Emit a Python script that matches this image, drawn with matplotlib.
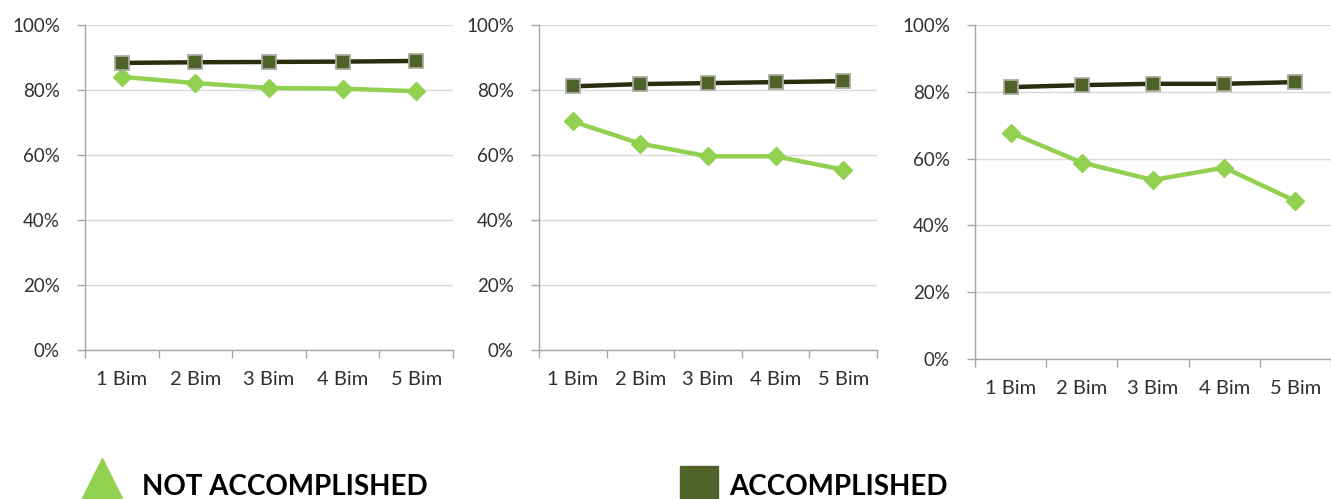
import numpy as np
import matplotlib.pyplot as plt
from matplotlib.lines import Line2D
from matplotlib.ticker import FuncFormatter

# periods on the x axis
bims = ["1 Bim", "2 Bim", "3 Bim", "4 Bim", "5 Bim"]

# one pair of series per panel (fractions)
accomplished = [
    [0.882, 0.884, 0.885, 0.886, 0.888],
    [0.810, 0.817, 0.820, 0.823, 0.826],
    [0.814, 0.820, 0.824, 0.824, 0.829],
]
not_accomplished = [
    [0.839, 0.820, 0.805, 0.803, 0.795],
    [0.702, 0.634, 0.595, 0.595, 0.554],
    [0.678, 0.588, 0.536, 0.573, 0.473],
]

W, H = 1331, 499
fig = plt.figure(figsize=(W / 100, H / 100), dpi=100)

light_green = "#92D050"
olive = "#4F6228"
dark_line = "#2B2E0C"
axis_grey = "#A6A6A6"
grid_grey = "#D9D9D9"
tick_font = "Lato"

# pixel boxes: left, right, top, bottom, right x-limit
boxes = [
    (85, 453, 24.5, 350, 4.33),
    (539, 877, 24.5, 350, 4.5),
    (975, 1331, 25, 359, 4.38),
]

for (l, r, t, b, xr), acc, nacc in zip(boxes, accomplished, not_accomplished):
    ax = fig.add_axes([l / W, 1 - b / H, (r - l) / W, (b - t) / H])
    x = np.arange(len(bims))
    ax.plot(x, acc, color=dark_line, lw=3.2, marker="s", ms=10.5,
            mfc=olive, mec="#A9AC9F", mew=1.3, zorder=4, clip_on=False)
    ax.plot(x, nacc, color=light_green, lw=3.2, marker="D", ms=9,
            mfc=light_green, mec=light_green, zorder=3, clip_on=False)

    ax.set_ylim(0, 1)
    ax.set_xlim(-0.5, xr)
    ax.set_yticks(np.arange(0, 1.01, 0.2))
    ax.yaxis.set_major_formatter(FuncFormatter(lambda v, p: f"{v * 100:.0f}%"))
    ax.set_xticks(x)
    ax.set_xticklabels(bims)
    # category boundaries get the tick marks
    ax.set_xticks(np.arange(-0.5, 4.6, 1), minor=True)
    ax.tick_params(axis="x", which="major", length=0, pad=15)
    ax.tick_params(axis="x", which="minor", length=6, color=axis_grey, width=1)
    ax.tick_params(axis="y", length=6, color=axis_grey, width=1, pad=12)
    for lab in ax.get_xticklabels():
        lab.set_fontfamily(tick_font)
        lab.set_fontsize(14.5)
        lab.set_color("#303030")
    for lab in ax.get_yticklabels():
        lab.set_fontfamily(tick_font)
        lab.set_fontsize(13.5)
        lab.set_color("#303030")

    ax.grid(axis="y", color=grid_grey, lw=1)
    ax.set_axisbelow(True)
    for side in ("top", "right"):
        ax.spines[side].set_visible(False)
    for side in ("left", "bottom"):
        ax.spines[side].set_color(axis_grey)
        ax.spines[side].set_linewidth(1)

# legend along the bottom
fig.add_artist(Line2D([102 / W], [1 - 478 / H], marker="^", ms=29,
                      color=light_green, lw=0, transform=fig.transFigure))
fig.add_artist(Line2D([699 / W], [1 - 485 / H], marker="s", ms=27,
                      color=olive, lw=0, transform=fig.transFigure))
legend_font = ["Lato", "DejaVu Sans"]
fig.text(142 / W, 1 - 495 / H, "NOT ACCOMPLISHED", fontsize=20,
         fontweight="bold", family=legend_font, va="baseline", ha="left")
fig.text(729 / W, 1 - 495 / H, "ACCOMPLISHED", fontsize=20,
         fontweight="bold", family=legend_font, va="baseline", ha="left")

fig.savefig("out.png", dpi=100)
